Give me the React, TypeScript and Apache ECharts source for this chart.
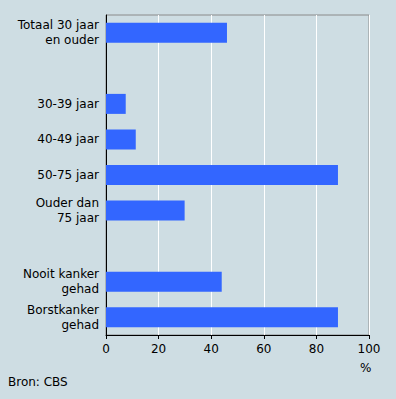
import React, { useEffect, useRef } from "react";
import * as echarts from "echarts";

const categories = [
  "Totaal 30 jaar\nen ouder",
  " ",
  "30-39 jaar",
  "40-49 jaar",
  "50-75 jaar",
  "Ouder dan\n75 jaar",
  "  ",
  "Nooit kanker\ngehad",
  "Borstkanker\ngehad",
];
const values: (number | null)[] = [46, null, 7.5, 11.3, 88.2, 29.9, null, 44, 88.2];
const xTicks = [0, 20, 40, 60, 80, 100];
const unitLabel = "%";
const sourceLabel = "Bron: CBS";

export default function App() {
  const ref = useRef<HTMLDivElement>(null);
  useEffect(() => {
    if (!ref.current) return;
    const chart = echarts.init(ref.current, null, { renderer: "svg" });
    const font = "'DejaVu Sans', Verdana, sans-serif";
    chart.setOption({
      animation: false,
      backgroundColor: "#cedde3",
      textStyle: { fontFamily: font },
      grid: {
        left: 106,
        right: 27,
        top: 15,
        bottom: 64,
        show: true,
        borderColor: "#8a8a8a",
        borderWidth: 1,
        backgroundColor: "transparent",
      },
      xAxis: {
        type: "value",
        min: xTicks[0],
        max: xTicks[xTicks.length - 1],
        interval: 20,
        axisLine: { show: true, lineStyle: { color: "#000", width: 1 } },
        axisTick: { show: true, length: 4, lineStyle: { color: "#000" } },
        axisLabel: { color: "#000", fontSize: 12, fontFamily: font, margin: 8 },
        splitLine: { show: true, lineStyle: { color: "#ffffff", width: 1 } },
      },
      yAxis: {
        type: "category",
        data: categories,
        inverse: true,
        axisLine: { show: true, lineStyle: { color: "#000", width: 1 } },
        axisTick: { show: false },
        axisLabel: {
          color: "#000",
          fontSize: 12,
          fontFamily: font,
          margin: 7,
          lineHeight: 15,
          align: "right",
        },
        splitLine: { show: false },
      },
      series: [
        {
          type: "bar",
          data: values,
          barWidth: 20,
          itemStyle: { color: "#3366ff" },
          z: 3,
        },
      ],
      graphic: [
        {
          type: "text",
          left: 360,
          top: 362,
          style: { text: unitLabel, fill: "#000", font: `12px ${font}` },
        },
        {
          type: "text",
          left: 8,
          top: 376,
          style: { text: sourceLabel, fill: "#000", font: `12px ${font}` },
        },
      ],
    });
    return () => chart.dispose();
  }, []);
  return (
    <div
      ref={ref}
      style={{ position: "fixed", left: 0, top: 0, width: 396, height: 399 }}
    />
  );
}
